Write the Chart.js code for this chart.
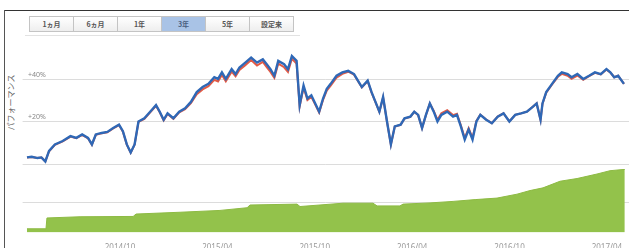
<!DOCTYPE html>
<html lang="ja">
<head>
<meta charset="UTF-8" />
<title>パフォーマンス</title>
<script src="https://cdn.jsdelivr.net/npm/chart.js"></script>
<style>
  html, body { margin: 0; padding: 0; background: #fff; overflow: hidden; }
  body { width: 629px; height: 248px; position: relative; font-family: "Noto Sans CJK JP", "Noto Sans", sans-serif; }
  .frame-top { position: absolute; left: 4px; top: 10px; width: 625px; height: 1px; background: #333; }
  .frame-left { position: absolute; left: 4px; top: 10px; width: 1px; height: 238px; background: #555; }
  .tabs { position: absolute; left: 30px; top: 16px; display: flex; }
  .tabs div { width: 43px; height: 14px; border: 1px solid #c4c4c4; margin-left: -1px; background: linear-gradient(#fff, #eee);
    font-size: 7px; line-height: 14px; text-align: center; color: #555; font-weight: bold; }
  .tabs div.on { background: #a9c3e6; color: #4a5f80; }
  .tabline { position: absolute; left: 25px; top: 35px; width: 275px; height: 1px; background: #e2e2e2; }
  .ytitle { position: absolute; left: -20px; top: 97px; width: 60px; text-align: center; font-size: 8px; color: #666;
    transform: rotate(-90deg); }
  #top { position: absolute; left: 0; top: 36px; }
  #bottom { position: absolute; left: 0; top: 168px; }
</style>
</head>
<body>
<div class="frame-top"></div>
<div class="frame-left"></div>
<div class="tabs">
  <div>1ヵ月</div><div>6ヵ月</div><div>1年</div><div class="on">3年</div><div>5年</div><div>設定来</div>
</div>
<div class="tabline"></div>
<div class="ytitle">パフォーマンス</div>
<canvas id="top" width="629" height="132"></canvas>
<canvas id="bottom" width="629" height="88"></canvas>

<script>
  // x in months since 2014/04
  const months = [
    0.27, 0.56, 0.92, 1.16, 1.40, 1.63, 1.99, 2.47, 2.95, 3.31, 3.67, 4.03, 4.27, 4.51, 4.87, 5.22, 5.58, 5.94,
    6.18, 6.42, 6.66, 6.90, 7.14, 7.50, 7.86, 8.22, 8.45, 8.69, 8.93, 9.29, 9.65, 10.01, 10.37, 10.73, 11.09,
    11.45, 11.81, 12.04, 12.28, 12.52, 12.88, 13.12, 13.36, 13.72, 14.08, 14.44, 14.80, 15.04, 15.27, 15.51,
    15.75, 16.11, 16.35, 16.59, 16.88, 17.07, 17.31, 17.55, 17.79, 18.03, 18.27, 18.51, 18.74, 18.98, 19.34,
    19.70, 20.06, 20.42, 20.66, 20.90, 21.26, 21.50, 21.74, 21.98, 22.21, 22.45, 22.69, 22.93, 23.29, 23.53,
    23.89, 24.13, 24.37, 24.61, 24.85, 25.09, 25.33, 25.56, 25.80, 26.16, 26.52, 26.76, 27.00, 27.24, 27.48,
    27.72, 27.96, 28.20, 28.56, 28.91, 29.27, 29.63, 29.99, 30.35, 30.71, 31.07, 31.43, 31.67, 31.91, 32.03,
    32.26, 32.62, 32.98, 33.22, 33.58, 33.82, 34.18, 34.54, 34.90, 35.26, 35.62, 35.97, 36.21, 36.45, 36.69, 37.05
  ];
  // fund performance (%)
  const fund = [
    3.1, 3.4, 2.8, 3.1, 1.2, 6.2, 9.2, 10.8, 13.1, 12.3, 13.9, 12.3, 9.2, 13.9, 14.6, 15.1, 16.9, 18.5,
    15.4, 9.2, 5.4, 9.2, 20.0, 21.5, 24.6, 27.7, 24.6, 20.8, 23.8, 21.5, 24.6, 26.2, 29.2, 33.8, 36.2,
    37.7, 40.8, 40.0, 43.1, 40.0, 44.6, 42.3, 45.4, 47.7, 50.0, 47.7, 49.2, 46.9, 44.6, 41.5,
    48.5, 46.9, 44.6, 50.8, 48.5, 27.7, 36.9, 30.8, 32.3, 28.5, 24.6, 30.8, 35.4, 37.7, 41.5,
    43.1, 43.8, 42.3, 39.2, 36.2, 39.2, 33.8, 29.2, 24.6, 31.5, 20.0, 9.2, 17.7, 18.5, 21.5,
    22.3, 24.6, 23.1, 16.9, 23.1, 28.5, 24.6, 20.0, 23.1, 24.6, 22.3, 23.1, 17.7, 11.5, 16.2,
    11.5, 20.0, 23.1, 20.8, 19.2, 22.3, 23.8, 20.0, 23.1, 23.8, 24.6, 26.9, 28.5, 20.8, 28.5,
    33.8, 37.7, 41.5, 43.1, 42.3, 40.8, 42.3, 40.0, 41.5, 43.1, 42.3, 44.6, 43.1, 40.8, 41.5, 37.7
  ];
  // benchmark (%)
  const bench = [
    3.1, 3.3, 2.8, 3.0, 1.2, 6.0, 9.0, 10.6, 12.9, 12.1, 13.7, 12.1, 9.1, 13.7, 14.4, 14.9, 16.7, 18.3,
    15.2, 9.1, 5.3, 9.1, 19.8, 21.2, 24.3, 27.4, 24.3, 20.5, 23.5, 21.2, 24.3, 25.8, 28.6, 32.8, 35.1,
    36.6, 39.6, 38.8, 41.9, 38.9, 43.4, 41.2, 44.2, 46.5, 48.9, 46.3, 48.0, 45.6, 43.3, 40.5,
    47.2, 45.5, 43.3, 49.5, 47.2, 27.1, 36.0, 30.1, 31.6, 28.0, 24.2, 30.1, 34.5, 36.8, 40.6,
    42.4, 43.4, 42.0, 39.0, 36.0, 39.0, 33.6, 29.1, 24.5, 31.3, 19.9, 9.2, 17.6, 18.4, 21.4,
    22.2, 24.5, 23.0, 16.9, 23.0, 28.4, 25.0, 20.8, 23.9, 25.3, 23.0, 23.6, 18.2, 12.2, 16.8,
    12.3, 20.3, 23.2, 20.9, 19.2, 22.3, 23.8, 20.0, 23.1, 23.8, 24.6, 26.9, 28.5, 20.8, 28.4,
    33.6, 37.4, 41.0, 42.4, 41.5, 40.1, 41.6, 39.6, 41.3, 42.9, 42.1, 44.4, 43.0, 40.8, 41.5, 37.7
  ];
  const perfGrid = [0, 20, 40];
  const perfLabels = ['', '+20%', '+40%'];

  // net assets (lower pane)
  const assetMonths = [0.27, 1.44, 1.50, 3.54, 6.81, 6.99, 9.70, 12.16, 13.83, 14.01, 16.91, 17.09, 19.74,
    21.59, 21.84, 23.25, 23.44, 25.10, 26.52, 27.88, 29.23, 30.46, 31.26, 32.06, 33.11, 34.16, 35.39, 36.19, 36.99, 37.10];
  const assets = [12, 12, 48, 52, 53, 61, 67, 73, 82, 91, 94, 86, 97,
    97, 88, 88, 94, 98, 103, 109, 114, 127, 139, 148, 170, 179, 194, 205, 209, 209];
  const assetGrid = [100];

  const tickMonths = [6, 12, 18, 24, 30, 36];
  const tickLabels = ['2014/10', '2015/04', '2015/10', '2016/04', '2016/10', '2017/04'];

  const xMin = 0, xMax = 37.36;

  function gridPlugin(lines, labels) {
    return {
      id: 'grid',
      beforeDatasetsDraw(chart) {
        const { ctx, chartArea, scales } = chart;
        ctx.save();
        lines.forEach((v, i) => {
          const y = Math.round(scales.y.getPixelForValue(v)) + 0.5;
          ctx.strokeStyle = '#dcdcdc';
          ctx.lineWidth = 1;
          ctx.beginPath();
          ctx.moveTo(chartArea.left, y);
          ctx.lineTo(chartArea.right, y);
          ctx.stroke();
          if (labels && labels[i]) {
            ctx.fillStyle = '#888';
            ctx.font = '7px "Noto Sans", sans-serif';
            ctx.textBaseline = 'bottom';
            ctx.fillText(labels[i], 28, y - 1);
          }
        });
        ctx.restore();
      }
    };
  }

  Chart.defaults.animation = false;
  Chart.defaults.responsive = false;

  new Chart(document.getElementById('top'), {
    type: 'line',
    data: {
      datasets: [
        { data: months.map((m, i) => ({ x: m, y: fund[i] })), borderColor: '#2f68b6', borderWidth: 2.4,
          pointRadius: 0, tension: 0, fill: false },
        { data: months.map((m, i) => ({ x: m, y: bench[i] })), borderColor: '#e25a45', borderWidth: 2,
          pointRadius: 0, tension: 0, fill: false }
      ]
    },
    options: {
      layout: { padding: { left: 22.6, right: 0, top: 0, bottom: 0 } },
      plugins: { legend: { display: false }, tooltip: { enabled: false } },
      scales: {
        x: { type: 'linear', min: xMin, max: xMax, display: false },
        y: { min: -1.88, max: 60.2, display: false }
      }
    },
    plugins: [gridPlugin(perfGrid, perfLabels)]
  });

  new Chart(document.getElementById('bottom'), {
    type: 'line',
    data: {
      datasets: [
        { data: assetMonths.map((m, i) => ({ x: m, y: assets[i] })), borderColor: '#8dba43', borderWidth: 1,
          backgroundColor: '#93c24b', pointRadius: 0, tension: 0, fill: 'origin' }
      ]
    },
    options: {
      layout: { padding: { left: 22.6, right: 0, top: 0, bottom: 0 } },
      plugins: { legend: { display: false }, tooltip: { enabled: false } },
      scales: {
        x: {
          type: 'linear', min: xMin, max: xMax,
          grid: { display: false }, border: { display: false },
          afterBuildTicks: s => { s.ticks = tickMonths.map(v => ({ value: v })); },
          ticks: {
            autoSkip: false, maxRotation: 0, padding: 3, color: '#999',
            font: { size: 8, family: '"Noto Sans", sans-serif' },
            callback: v => tickLabels[tickMonths.indexOf(v)]
          }
        },
        y: { min: 0, max: 214, display: false }
      }
    },
    plugins: [gridPlugin(assetGrid, null)]
  });
</script>
</body>
</html>
